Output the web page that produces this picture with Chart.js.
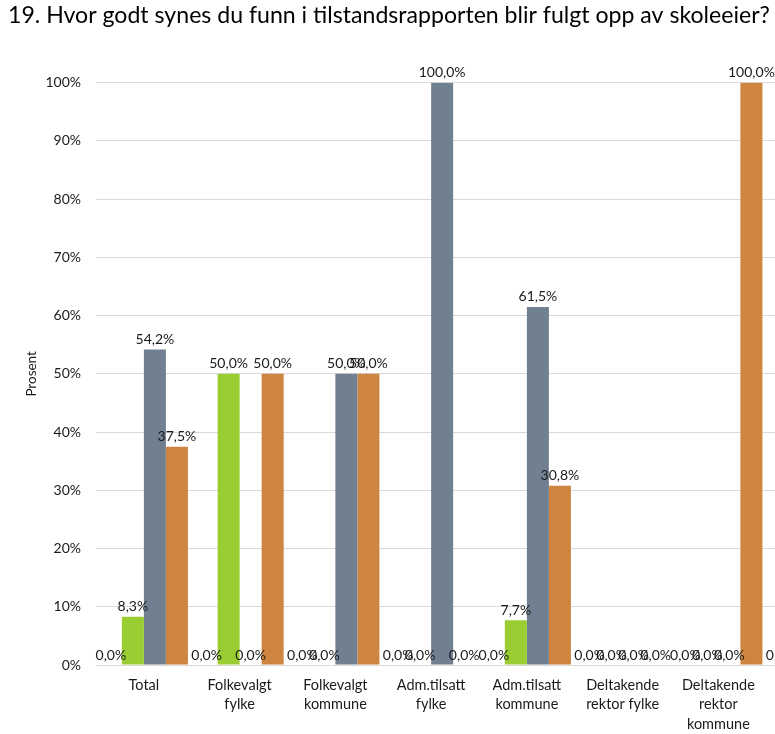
<!DOCTYPE html>
<html>
<head>
<meta charset="utf-8">
<script src="https://cdn.jsdelivr.net/npm/chart.js@4/dist/chart.umd.min.js"></script>
<style>
html,body{margin:0;padding:0;background:#fff;overflow:hidden;width:775px;height:734px;}
canvas{display:block;}
</style>
</head>
<body>
<canvas id="c" width="870" height="734"></canvas>
<script>
const titleText = '19. Hvor godt synes du funn i tilstandsrapporten blir fulgt opp av skoleeier?';
const categories = [
  'Total',
  ['Folkevalgt', 'fylke'],
  ['Folkevalgt', 'kommune'],
  ['Adm.tilsatt', 'fylke'],
  ['Adm.tilsatt', 'kommune'],
  ['Deltakende', 'rektor fylke'],
  ['Deltakende', 'rektor', 'kommune'],
  ''
];
const series1 = [0, 0, 0, 0, 0, 0, 0, 0];
const seriesGreen = [8.3, 50, 0, 0, 7.7, 0, 0, null];
const seriesGrey = [54.2, 0, 50, 100, 61.5, 0, 0, null];
const seriesOrange = [37.5, 50, 50, 0, 30.8, 0, 100, null];
const yTicks = [0, 10, 20, 30, 40, 50, 60, 70, 80, 90, 100];

const FONT = 'Lato, "Open Sans", sans-serif';

const labelPlugin = {
  id: 'barLabels',
  afterDatasetsDraw(chart) {
    const ctx = chart.ctx;
    ctx.save();
    ctx.font = '14px ' + FONT;
    ctx.fillStyle = '#1a1a1a';
    ctx.textAlign = 'center';
    ctx.textBaseline = 'bottom';
    chart.data.datasets.forEach((ds, i) => {
      const meta = chart.getDatasetMeta(i);
      meta.data.forEach((el, j) => {
        const v = ds.data[j];
        if (v === null || v === undefined) return;
        const txt = v.toFixed(1).replace('.', ',') + '%';
        ctx.fillText(txt, el.x, el.y - 3);
      });
    });
    ctx.restore();
  }
};

new Chart(document.getElementById('c'), {
  type: 'bar',
  data: {
    labels: categories,
    datasets: [
      { label: 'S1', data: series1, backgroundColor: '#4F81BD' },
      { label: 'S2', data: seriesGreen, backgroundColor: '#9ACD32' },
      { label: 'S3', data: seriesGrey, backgroundColor: '#708090' },
      { label: 'S4', data: seriesOrange, backgroundColor: '#CD853F' }
    ]
  },
  options: {
    responsive: false,
    animation: false,
    devicePixelRatio: 1,
    layout: { padding: { top: 0, left: 8, right: 8, bottom: 0 } },
    datasets: { bar: { categoryPercentage: 0.92, barPercentage: 1.0 } },
    plugins: {
      legend: { display: false },
      tooltip: { enabled: false },
      title: {
        display: true,
        text: titleText,
        align: 'start',
        color: '#000',
        font: { family: FONT, size: 23.1, weight: 'normal' },
        padding: { top: 2, bottom: 53 },
        fullSize: true
      }
    },
    scales: {
      x: {
        grid: { display: false, drawTicks: false },
        border: { display: false },
        afterFit(axis) { axis.height = 69; },
        ticks: {
          color: '#1a1a1a',
          font: { family: FONT, size: 14.5, lineHeight: 1.32 },
          maxRotation: 0,
          autoSkip: false,
          padding: 11
        }
      },
      y: {
        min: 0,
        max: 100,
        afterBuildTicks(axis) { axis.ticks = yTicks.map(v => ({ value: v })); },
        afterFit(axis) { axis.width = 88; },
        grid: { color: '#d9d9d9', lineWidth: 1, drawTicks: false },
        border: { display: false },
        ticks: {
          color: '#1a1a1a',
          font: { family: FONT, size: 14 },
          padding: 15,
          callback: v => v + '%'
        },
        title: {
          display: true,
          text: 'Prosent',
          color: '#1a1a1a',
          font: { family: FONT, size: 13.5 },
          padding: { top: 16, bottom: 4 }
        }
      }
    }
  },
  plugins: [labelPlugin]
});
</script>
</body>
</html>
